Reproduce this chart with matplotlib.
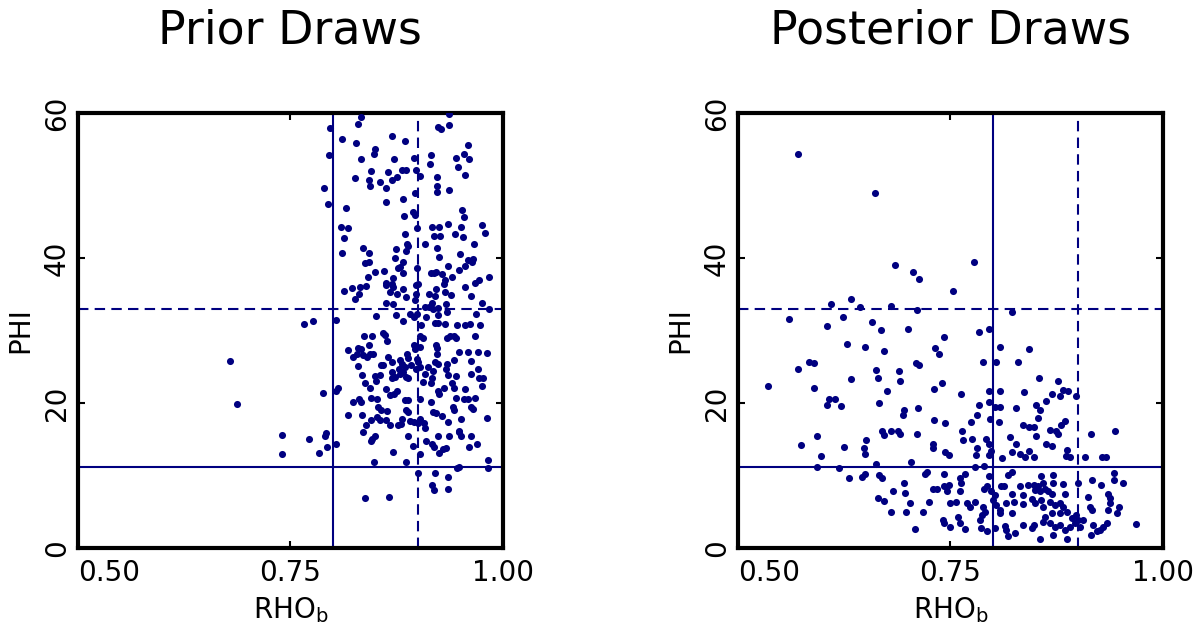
import numpy as np
import matplotlib.pyplot as plt

# (RHO_b, PHI) draws
prior_draws = [
    (0.797, 57.9), (0.833, 59.5), (0.830, 58.5), (0.811, 56.4), (0.827, 55.9), (0.869, 56.8),
    (0.885, 56.2), (0.937, 59.8), (0.937, 58.3), (0.924, 58.1), (0.927, 57.8), (0.959, 55.6),
    (0.795, 54.2), (0.850, 55.1), (0.848, 54.3), (0.833, 53.6), (0.872, 53.6), (0.895, 53.8),
    (0.916, 54.2), (0.914, 52.9), (0.945, 53.8), (0.954, 54.3), (0.960, 53.7), (0.947, 52.6),
    (0.845, 52.0), (0.865, 51.9), (0.881, 52.1), (0.886, 52.1), (0.898, 52.1), (0.902, 51.3),
    (0.826, 51.0), (0.842, 50.8), (0.844, 50.0), (0.855, 50.5), (0.869, 50.8), (0.876, 51.2),
    (0.862, 49.7), (0.922, 51.2), (0.922, 50.0), (0.923, 49.1), (0.937, 49.4), (0.955, 51.5),
    (0.789, 49.7), (0.897, 48.9), (0.882, 48.2), (0.863, 47.7), (0.794, 47.5), (0.815, 46.9),
    (0.884, 45.8), (0.894, 46.3), (0.897, 46.0), (0.952, 46.6), (0.954, 45.7),
    (0.810, 44.3), (0.818, 44.1), (0.813, 42.7), (0.811, 40.7), (0.836, 41.4), (0.843, 40.7),
    (0.838, 39.3), (0.842, 39.4), (0.841, 37.4), (0.850, 38.1), (0.860, 38.2), (0.885, 43.3),
    (0.887, 42.0), (0.888, 41.6), (0.886, 41.0), (0.874, 41.3), (0.873, 40.0), (0.882, 39.4),
    (0.879, 38.7), (0.877, 38.6), (0.883, 38.0), (0.871, 37.3), (0.862, 36.6), (0.862, 36.3),
    (0.869, 36.4), (0.871, 36.0), (0.882, 35.7), (0.899, 44.1), (0.899, 38.6), (0.898, 36.3),
    (0.900, 36.4), (0.909, 41.9), (0.917, 44.3), (0.925, 44.3), (0.935, 44.7), (0.951, 44.3),
    (0.976, 44.6), (0.979, 43.5), (0.944, 43.3), (0.953, 42.9), (0.919, 43.1), (0.926, 43.0),
    (0.923, 41.4), (0.925, 40.2), (0.950, 40.6), (0.966, 42.0), (0.959, 39.7), (0.965, 39.8),
    (0.964, 39.4), (0.955, 38.9), (0.935, 38.9), (0.919, 38.0), (0.921, 38.1), (0.916, 37.9),
    (0.929, 37.8), (0.940, 37.4), (0.932, 36.9), (0.931, 36.4), (0.949, 38.3), (0.984, 37.4),
    (0.967, 36.5), (0.972, 37.0), (0.955, 36.0), (0.921, 35.7), (0.913, 35.1), (0.920, 34.8),
    (0.917, 33.8), (0.932, 35.3), (0.939, 34.9), (0.813, 35.4), (0.823, 35.8), (0.832, 36.0),
    (0.839, 36.1), (0.831, 35.1), (0.826, 34.3), (0.867, 35.3), (0.876, 35.1), (0.886, 34.6),
    (0.898, 35.0), (0.897, 34.2), (0.863, 33.8), (0.871, 33.6), (0.851, 32.0), (0.874, 32.2),
    (0.891, 32.3), (0.895, 31.8), (0.899, 32.3), (0.909, 33.2), (0.913, 33.2), (0.918, 33.0),
    (0.924, 33.1), (0.933, 33.7), (0.934, 32.5), (0.924, 32.2), (0.962, 34.7), (0.976, 33.8),
    (0.968, 32.3), (0.984, 32.9), (0.961, 30.9), (0.946, 30.8), (0.956, 30.8), (0.973, 30.7),
    (0.920, 31.1), (0.924, 31.1), (0.932, 30.9), (0.904, 30.7), (0.910, 31.9), (0.883, 31.3),
    (0.777, 31.3), (0.766, 30.9), (0.804, 31.5),
    (0.837, 29.3), (0.846, 29.3), (0.859, 29.7), (0.861, 29.4), (0.864, 28.5), (0.842, 28.0),
    (0.818, 27.3), (0.830, 27.6), (0.833, 27.4), (0.828, 26.7), (0.824, 26.3), (0.836, 26.6),
    (0.840, 26.4), (0.844, 26.7), (0.847, 26.8), (0.865, 26.4), (0.859, 25.3), (0.857, 25.2),
    (0.869, 25.7), (0.879, 25.9), (0.881, 25.4), (0.878, 24.7), (0.887, 26.8), (0.888, 26.2),
    (0.895, 28.0), (0.897, 27.5), (0.902, 27.7), (0.903, 29.3), (0.906, 29.0), (0.899, 26.1),
    (0.900, 25.7), (0.902, 25.0), (0.898, 24.7), (0.892, 25.3), (0.885, 25.0), (0.912, 25.0),
    (0.909, 24.0), (0.918, 24.4), (0.917, 23.4), (0.915, 22.7), (0.906, 22.9), (0.921, 28.0),
    (0.923, 27.6), (0.922, 26.7), (0.920, 25.7), (0.924, 25.4), (0.934, 25.4), (0.933, 24.7),
    (0.934, 29.0), (0.938, 29.3), (0.942, 29.3), (0.945, 29.0), (0.967, 29.2), (0.949, 27.0),
    (0.959, 27.1), (0.971, 27.1), (0.981, 26.9), (0.942, 25.9), (0.963, 25.8), (0.971, 24.7),
    (0.963, 24.0), (0.972, 23.4), (0.977, 23.4), (0.975, 22.4), (0.945, 23.7), (0.935, 23.8),
    (0.940, 22.7), (0.942, 22.1), (0.931, 22.1), (0.925, 21.3), (0.924, 21.6), (0.955, 22.0),
    (0.834, 23.9), (0.830, 25.1), (0.838, 22.8), (0.844, 22.1), (0.849, 23.7), (0.855, 23.8),
    (0.851, 23.1), (0.869, 24.3), (0.870, 23.4), (0.873, 23.6), (0.879, 24.0), (0.883, 24.3),
    (0.886, 23.6), (0.889, 23.4), (0.863, 22.0), (0.875, 21.6), (0.872, 21.3), (0.867, 21.1),
    (0.806, 22.1), (0.804, 21.7), (0.788, 21.4), (0.824, 20.1), (0.831, 20.5), (0.833, 20.1),
    (0.845, 20.7), (0.852, 20.5), (0.853, 19.5), (0.857, 19.1), (0.864, 18.9), (0.885, 20.4),
    (0.888, 20.4), (0.886, 19.1), (0.888, 18.8), (0.902, 20.6), (0.915, 20.1), (0.945, 20.7),
    (0.954, 20.5), (0.959, 20.6), (0.967, 20.7), (0.962, 19.5), (0.965, 19.2), (0.941, 19.5),
    (0.943, 19.0), (0.818, 18.4), (0.834, 18.4), (0.839, 17.0), (0.845, 17.7), (0.852, 18.1),
    (0.855, 17.7), (0.863, 17.6), (0.867, 17.0), (0.880, 17.1), (0.877, 17.0), (0.881, 17.8),
    (0.891, 17.5), (0.895, 17.4), (0.900, 17.2), (0.902, 17.8), (0.907, 17.2), (0.909, 16.6),
    (0.918, 18.8), (0.921, 18.6), (0.928, 18.2), (0.935, 17.4), (0.951, 17.8), (0.981, 18.0),
    (0.948, 16.0), (0.949, 16.2), (0.792, 15.8), (0.836, 16.0),
    (0.772, 15.1), (0.791, 15.5), (0.793, 14.0), (0.804, 14.3), (0.784, 13.1), (0.849, 15.5),
    (0.846, 15.0), (0.845, 14.7), (0.871, 13.3), (0.848, 11.8), (0.888, 15.4), (0.886, 11.8),
    (0.894, 14.1), (0.902, 12.9), (0.910, 14.7), (0.917, 14.3), (0.919, 13.9), (0.924, 15.4),
    (0.925, 13.1), (0.930, 13.7), (0.933, 13.8), (0.937, 15.4), (0.951, 15.5), (0.962, 15.4),
    (0.960, 14.0), (0.970, 14.3), (0.983, 12.2), (0.983, 11.1), (0.946, 11.1), (0.949, 11.2),
    (0.900, 10.4), (0.920, 10.4), (0.935, 9.8), (0.917, 8.7), (0.919, 8.0), (0.935, 8.1),
    (0.838, 6.9), (0.866, 7.0),
    (0.679, 25.8), (0.687, 19.9), (0.740, 15.6), (0.740, 12.9),
]

posterior_draws = [
    (0.571, 54.3), (0.661, 48.9), (0.685, 39.0), (0.706, 38.1), (0.713, 37.1), (0.778, 39.4),
    (0.753, 35.4), (0.633, 34.4), (0.609, 33.6), (0.644, 33.2), (0.680, 33.4), (0.711, 32.8),
    (0.823, 32.6), (0.560, 31.6), (0.623, 31.9), (0.605, 30.6), (0.658, 31.2), (0.668, 30.1),
    (0.700, 30.2), (0.784, 29.8), (0.795, 30.2), (0.628, 28.1), (0.650, 27.7), (0.672, 27.2),
    (0.732, 27.6), (0.737, 26.7), (0.743, 29.1), (0.808, 27.7), (0.842, 27.4), (0.584, 25.7),
    (0.590, 25.5), (0.571, 24.7), (0.663, 24.5), (0.665, 23.5), (0.689, 24.4), (0.691, 23.1),
    (0.710, 25.5), (0.713, 25.2), (0.633, 23.3), (0.589, 22.1), (0.535, 22.4), (0.675, 21.7),
    (0.731, 21.9), (0.740, 22.8), (0.762, 21.2), (0.788, 25.6), (0.804, 25.6), (0.830, 25.7),
    (0.854, 23.5), (0.877, 23.1), (0.795, 21.6), (0.808, 21.7), (0.837, 21.5), (0.869, 21.3),
    (0.883, 21.8), (0.889, 21.6), (0.879, 21.0), (0.898, 20.9), (0.862, 20.3), (0.607, 20.5),
    (0.614, 20.5), (0.605, 19.7), (0.621, 19.6), (0.666, 20.0), (0.695, 19.0), (0.694, 18.4),
    (0.712, 19.3), (0.784, 19.7), (0.796, 20.1), (0.802, 19.4), (0.808, 19.4), (0.827, 19.3),
    (0.851, 19.7), (0.855, 19.0), (0.853, 18.0), (0.781, 18.3), (0.774, 17.4), (0.797, 17.8),
    (0.807, 17.4), (0.731, 17.6), (0.744, 17.3), (0.836, 17.0), (0.842, 16.7), (0.848, 16.7),
    (0.885, 17.5), (0.880, 16.9), (0.867, 16.3), (0.874, 16.1), (0.877, 15.7), (0.915, 15.7),
    (0.944, 16.1), (0.593, 15.5), (0.574, 14.2), (0.598, 12.7), (0.625, 14.0), (0.648, 13.8),
    (0.649, 13.0), (0.651, 14.9), (0.670, 16.1), (0.672, 15.6), (0.680, 16.2), (0.688, 16.1),
    (0.691, 15.7), (0.711, 15.7), (0.729, 14.4), (0.730, 13.8), (0.744, 13.3), (0.748, 12.8),
    (0.764, 16.1), (0.765, 14.9), (0.775, 15.0), (0.781, 13.8), (0.780, 12.8), (0.792, 15.1),
    (0.796, 14.4), (0.798, 13.4), (0.795, 12.8), (0.811, 12.4), (0.820, 15.3), (0.827, 14.4),
    (0.823, 13.2), (0.832, 12.9), (0.838, 12.6), (0.842, 13.4), (0.848, 12.6), (0.851, 15.5),
    (0.863, 14.4), (0.870, 14.1), (0.887, 13.5), (0.886, 12.7), (0.891, 12.6), (0.908, 12.6),
    (0.928, 12.6), (0.933, 12.5),
    (0.593, 11.2), (0.619, 11.0), (0.663, 11.6), (0.704, 11.8), (0.779, 11.2), (0.789, 11.3),
    (0.631, 9.6), (0.646, 9.8), (0.649, 10.2), (0.666, 10.1), (0.669, 9.6), (0.720, 10.2),
    (0.722, 10.5), (0.743, 10.2), (0.761, 9.6), (0.767, 10.2), (0.796, 9.9), (0.818, 10.1),
    (0.822, 10.5), (0.857, 9.9), (0.871, 10.1), (0.883, 8.8), (0.900, 8.9), (0.917, 9.4),
    (0.927, 8.7), (0.942, 10.4), (0.942, 9.4), (0.953, 8.9), (0.695, 9.0), (0.697, 7.6),
    (0.682, 7.8), (0.665, 6.9), (0.672, 6.5), (0.680, 4.9), (0.702, 6.2), (0.698, 5.0),
    (0.718, 5.0), (0.725, 6.3), (0.730, 8.1), (0.734, 8.2), (0.742, 8.6), (0.748, 8.7),
    (0.746, 7.8), (0.749, 6.2), (0.757, 6.4), (0.761, 7.9), (0.763, 9.0), (0.770, 6.2),
    (0.773, 5.7), (0.779, 6.3), (0.788, 5.7), (0.791, 5.0), (0.787, 4.6), (0.785, 3.9),
    (0.741, 3.9), (0.742, 3.4), (0.750, 2.9), (0.759, 4.3), (0.761, 3.4), (0.767, 2.6),
    (0.708, 2.6), (0.789, 8.1), (0.793, 8.6), (0.798, 7.8), (0.802, 7.3), (0.800, 6.6),
    (0.804, 5.9), (0.808, 5.2), (0.808, 4.8), (0.802, 2.7), (0.793, 2.3), (0.786, 2.7),
    (0.810, 8.5), (0.813, 8.6), (0.822, 7.5), (0.816, 6.2), (0.825, 6.3), (0.822, 4.8),
    (0.836, 6.1), (0.835, 3.2), (0.814, 3.0), (0.818, 1.6), (0.815, 2.5), (0.826, 2.1),
    (0.832, 8.5), (0.836, 7.3), (0.841, 8.7), (0.848, 8.7), (0.849, 8.0), (0.853, 8.6),
    (0.859, 8.9), (0.861, 8.1), (0.865, 7.8), (0.869, 7.5), (0.871, 9.0), (0.855, 7.8),
    (0.846, 6.7), (0.849, 6.2), (0.857, 6.6), (0.859, 5.7), (0.867, 6.4), (0.873, 5.9),
    (0.879, 6.2), (0.885, 7.5), (0.883, 5.7), (0.887, 5.0), (0.879, 4.8), (0.869, 4.8),
    (0.861, 4.3), (0.859, 3.6), (0.867, 3.4), (0.873, 2.9), (0.879, 3.2), (0.885, 2.5),
    (0.891, 2.9), (0.897, 3.4), (0.898, 4.6), (0.900, 3.9), (0.893, 4.1), (0.902, 2.9),
    (0.906, 3.9), (0.887, 1.3), (0.871, 1.8), (0.855, 1.2), (0.846, 2.7), (0.848, 3.2),
    (0.912, 7.1), (0.914, 5.7), (0.917, 5.2), (0.916, 1.8), (0.922, 2.3), (0.926, 2.5),
    (0.930, 2.9), (0.934, 3.4), (0.936, 7.5), (0.938, 6.9), (0.938, 6.2), (0.936, 5.2),
    (0.946, 4.8), (0.949, 5.7), (0.969, 3.3), (0.918, 3.2),
]

panel_titles = ['Prior Draws', 'Posterior Draws']
xticks = [0.5, 0.75, 1.0]
xtick_labels = ['0.50', '0.75', '1.00']
yticks = [0, 20, 40, 60]
rho_solid, rho_dash = 0.8, 0.9
phi_solid, phi_dash = 11.2, 33.0

NAVY = '#000080'

fig = plt.figure(figsize=(12, 6.31), dpi=100)
ax1 = fig.add_axes([0.065, 0.1315, 0.354, 0.6894])
ax2 = fig.add_axes([0.615, 0.1315, 0.354, 0.6894])

for ax, draws, title in zip([ax1, ax2], [prior_draws, posterior_draws], panel_titles):
    pts = np.array(draws)
    ax.scatter(pts[:, 0], pts[:, 1], s=26, color=NAVY, linewidths=0, zorder=3)

    ax.axvline(rho_solid, color=NAVY, lw=1.5)
    ax.axvline(rho_dash, color=NAVY, lw=1.5, ls=(0, (5, 3)))
    ax.axhline(phi_solid, color=NAVY, lw=1.5)
    ax.axhline(phi_dash, color=NAVY, lw=1.5, ls=(0, (5, 3)))

    ax.set_xlim(0.5, 1.0)
    ax.set_ylim(0, 60)
    ax.set_xticks(xticks)
    ax.set_xticklabels(xtick_labels)
    ax.set_yticks(yticks)
    ax.tick_params(direction='in', top=True, right=True, length=5, width=1.5,
                   labelsize=20)
    ax.tick_params(axis='x', pad=8)
    ax.tick_params(axis='y', pad=5)
    ax.get_xticklabels()[0].set_horizontalalignment('left')
    for lab in ax.get_yticklabels():
        lab.set_rotation(90)
        lab.set_verticalalignment('center')

    for sp in ax.spines.values():
        sp.set_linewidth(3)

    ax.set_xlabel(r'RHO$_\mathregular{b}$', fontsize=20, labelpad=6)
    ax.set_ylabel('PHI', fontsize=20, labelpad=6)
    ax.set_title(title, fontsize=33, pad=50)

fig.savefig('out.png', dpi=100)
